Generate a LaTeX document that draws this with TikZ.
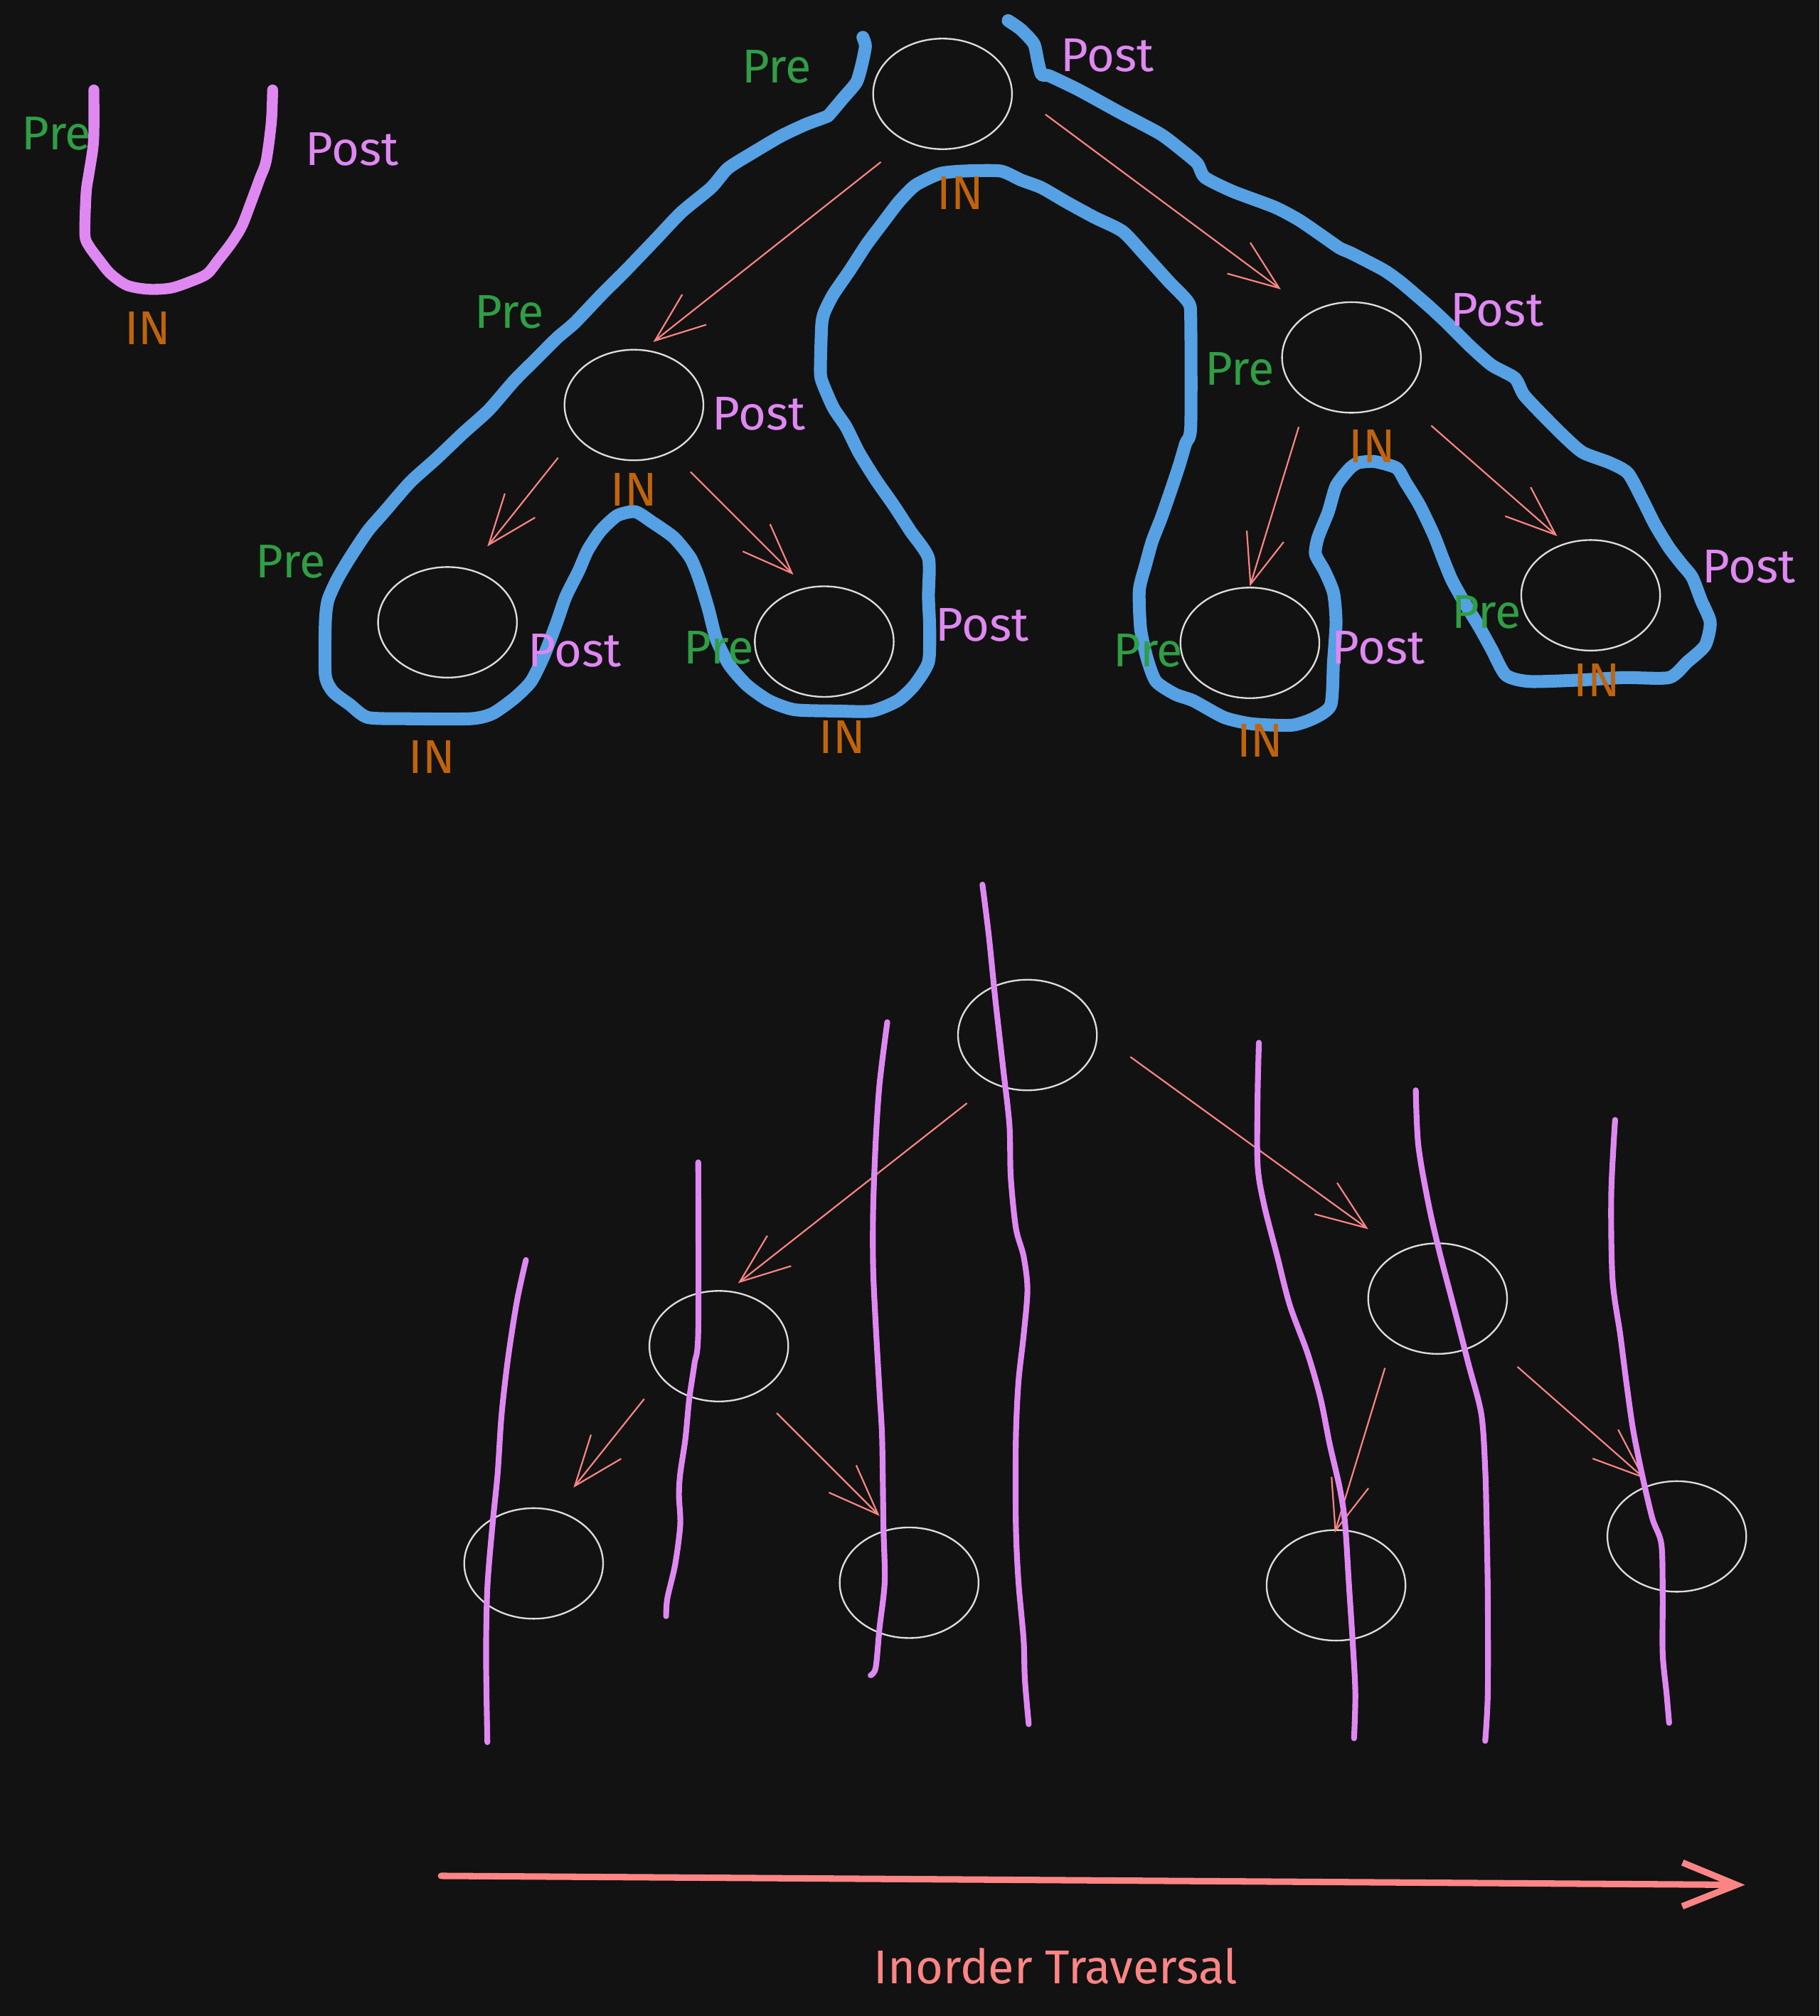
\documentclass[tikz,border=0pt]{standalone}
\usepackage{fontspec}
\setmainfont{Fira Sans}
\usepackage{xcolor}
\usepackage{tikz}
\usetikzlibrary{shapes.geometric, arrows.meta, calc}
\definecolor{bgdark}{HTML}{121212}
\definecolor{nodegray}{HTML}{DCDCDC}
\definecolor{edgered}{HTML}{FF8585}
\definecolor{pregreen}{HTML}{2F9E44}
\definecolor{postpurple}{HTML}{DF88F2}
\definecolor{inorange}{HTML}{C0640C}
\definecolor{contourblue}{HTML}{56A0E4}
\tikzset{
  treenode/.style={ellipse, draw=nodegray, line width=0.13mm,
    minimum width=10.8mm, minimum height=8.6mm, inner sep=0pt},
  treeedge/.style={-{Straight Barb[length=3.9mm, width=3mm]}, draw=edgered, line width=0.12mm},
  prelabel/.style={text=pregreen, font=\fontsize{10.5}{12}\selectfont, inner sep=0pt},
  postlabel/.style={text=postpurple, font=\fontsize{10.5}{12}\selectfont, inner sep=0pt},
  inlabel/.style={text=inorange, font=\fontsize{10.5}{12}\selectfont, inner sep=0pt},
  contour/.style={draw=contourblue, line width=1mm, line cap=round, line join=round},
  sweepline/.style={draw=postpurple, line width=0.45mm, line cap=round, line join=round},
  traversalarrow/.style={-{Straight Barb[length=4.2mm, width=3.4mm]}, draw=edgered,
    line width=0.5mm, line cap=round},
}

\begin{document}
\begin{tikzpicture}[x=0.1mm, y=-0.1mm]
  % Background
  \fill[bgdark] (0,0) rectangle (1415,1568);
  \useasboundingbox (0,0) rectangle (1415,1568);

  % Legend U
  \draw[sweepline, line width=0.85mm] plot[smooth, tension=0.5] coordinates {
    (73,70) (73,103) (72,117) (69,136) (67,150) (66,182) (69,191) (77,202) (86,213)
    (99,222) (116,225) (133,224) (148,219) (161,213) (170,202) (180,189) (188,176)
    (195,158) (202,139) (207,125) (211,95) (212,70)};
  \node[prelabel] (upre) at (44,104) {Pre};
  \node[postlabel] (upost) at (274,116) {Post};
  \node[inlabel] (uin) at (115,255) {IN};

  % Top tree
  \node[treenode] (troot) at (733,73) {};
  \node[treenode] (tl) at (493,315) {};
  \node[treenode] (tr) at (1051,278) {};
  \node[treenode] (tll) at (348,484) {};
  \node[treenode] (tlr) at (641,499) {};
  \node[treenode] (trl) at (972,500) {};
  \node[treenode] (trr) at (1237,463) {};

  \draw[treeedge] ($(troot)+(-48,53)$) -- ($(tl)+(15,-49)$);
  \draw[treeedge] ($(troot)+(80,16)$) -- ($(tr)+(-55,-53)$);
  \draw[treeedge] ($(tl)+(-59,41)$) -- ($(tll)+(31,-59)$);
  \draw[treeedge] ($(tl)+(44,52)$) -- ($(tlr)+(-24,-52)$);
  \draw[treeedge] ($(tr)+(-41,54)$) -- ($(trl)+(0,-44)$);
  \draw[treeedge] ($(tr)+(62,53)$) -- ($(trr)+(-26,-46)$);

  % Euler tour contour
  \draw[contour] plot[smooth, tension=0.4] coordinates {
    (671,29) (673,36) (670,51) (666,64) (656,76) (645,89) (642,91) (626,97) (607,106)
    (585,119) (566,131) (553,146) (530,165) (510,186) (487,210) (467,230) (447,251)
    (433,263) (417,279) (400,296) (380,319) (360,337) (339,357) (319,375) (299,398)
    (286,413) (272,434) (262,451) (255,467) (253,484) (253,525) (259,538) (272,548)
    (286,558) (316,559) (366,559) (383,555) (400,543) (413,530) (423,510) (433,484)
    (440,464) (450,444) (457,428) (467,413) (480,401) (494,398) (507,406) (524,418)
    (537,434) (544,451) (551,474) (557,497) (567,517) (581,533) (598,545) (618,552)
    (651,553) (678,553) (698,545) (711,533) (722,515) (723,489) (722,464) (722,434)
    (708,413) (695,393) (681,373) (668,352) (658,332) (648,317) (639,296) (638,286)
    (639,253) (641,243) (648,229) (661,210) (674,190) (686,174) (699,157) (712,144)
    (731,135) (750,133) (778,133) (794,140) (810,146) (829,157) (851,169) (873,180)
    (890,198) (909,219) (924,235) (926,248) (926,332) (922,345) (917,362) (910,383)
    (903,403) (896,421) (891,439) (886,459) (887,489) (892,512) (899,530) (914,540)
    (928,545) (952,558) (974,563) (1005,564) (1023,558) (1035,548) (1037,515)
    (1039,484) (1037,461) (1030,444) (1023,431) (1025,418) (1033,398) (1039,378)
    (1049,365) (1056,360) (1069,359) (1086,364) (1093,375) (1104,393) (1115,416)
    (1122,434) (1129,451) (1139,469) (1150,487) (1160,505) (1171,525) (1189,530)
    (1227,529) (1263,527) (1298,527) (1312,515) (1326,502) (1330,484) (1323,467)
    (1316,449) (1308,439) (1298,426) (1287,408) (1277,388) (1266,368) (1252,360)
    (1231,352) (1217,340) (1199,322) (1185,307) (1178,294) (1160,284) (1143,269)
    (1125,251) (1111,238) (1090,220) (1076,210) (1051,197) (1042,193) (1029,184)
    (1010,171) (991,161) (959,149) (937,138) (931,127) (918,116) (902,104) (870,87)
    (839,70) (816,59) (810,58) (807,47) (804,34) (794,23) (784,16)};

  % Top labels
  \node[prelabel] (trootpre) at (604,52) {Pre};
  \node[postlabel] (trootpost) at (861,43) {Post};
  \node[inlabel] (trootin) at (747,150) {IN};
  \node[prelabel] (tlpre) at (396,243) {Pre};
  \node[postlabel] (tlpost) at (590,322) {Post};
  \node[inlabel] (tlin) at (493,381) {IN};
  \node[prelabel] (trpre) at (964,287) {Pre};
  \node[postlabel] (trpost) at (1164,241) {Post};
  \node[inlabel] (trin) at (1067,347) {IN};
  \node[prelabel] (tllpre) at (226,437) {Pre};
  \node[postlabel] (tllpost) at (447,506) {Post};
  \node[inlabel] (tllin) at (336,589) {IN};
  \node[prelabel] (tlrpre) at (559,504) {Pre};
  \node[postlabel] (tlrpost) at (764,486) {Post};
  \node[inlabel] (tlrin) at (655,573) {IN};
  \node[prelabel] (trlpre) at (893,506) {Pre};
  \node[postlabel] (trlpost) at (1072,504) {Post};
  \node[inlabel] (trlin) at (980,576) {IN};
  \node[prelabel] (trrpre) at (1156,476) {Pre};
  \node[postlabel] (trrpost) at (1360,441) {Post};
  \node[inlabel] (trrin) at (1242,529) {IN};

  % Bottom tree
  \node[treenode] (broot) at (799,805) {};
  \node[treenode] (bl) at (559,1047) {};
  \node[treenode] (br) at (1118,1010) {};
  \node[treenode] (bll) at (415,1216) {};
  \node[treenode] (blr) at (707,1231) {};
  \node[treenode] (brl) at (1039,1233) {};
  \node[treenode] (brr) at (1304,1195) {};

  \draw[treeedge] ($(broot)+(-47,53)$) -- ($(bl)+(15,-49)$);
  \draw[treeedge] ($(broot)+(80,17)$) -- ($(br)+(-54,-54)$);
  \draw[treeedge] ($(bl)+(-58,41)$) -- ($(bll)+(31,-59)$);
  \draw[treeedge] ($(bl)+(45,52)$) -- ($(blr)+(-23,-52)$);
  \draw[treeedge] ($(br)+(-41,54)$) -- ($(brl)+(-1,-41)$);
  \draw[treeedge] ($(br)+(62,53)$) -- ($(brr)+(-25,-45)$);

  % Sweep lines
  \draw[sweepline] plot[smooth, tension=0.5] coordinates {
    (409,980) (402,1012) (395,1057) (390,1101) (387,1146) (383,1186) (379,1235)
    (378,1288) (379,1355)};
  \draw[sweepline] plot[smooth, tension=0.5] coordinates {
    (543,904) (543,1035) (540,1061) (536,1088) (533,1119) (529,1146) (528,1163)
    (529,1186) (525,1217) (519,1243) (518,1257)};
  \draw[sweepline] plot[smooth, tension=0.5] coordinates {
    (690,795) (684,843) (681,888) (679,941) (679,986) (681,1030) (684,1083)
    (686,1119) (687,1186) (688,1230) (684,1266) (681,1297) (677,1303)};
  \draw[sweepline] plot[smooth, tension=0.5] coordinates {
    (764,688) (769,728) (774,777) (780,830) (785,875) (786,915) (790,955) (796,977)
    (799,1003) (796,1039) (792,1075) (790,1119) (790,1186) (792,1230) (796,1275)
    (797,1306) (800,1341)};
  \draw[sweepline] plot[smooth, tension=0.5] coordinates {
    (979,811) (978,852) (978,906) (983,937) (993,976) (1003,1015) (1017,1053)
    (1027,1088) (1034,1123) (1042,1158) (1046,1185) (1049,1232) (1052,1278)
    (1054,1317) (1053,1352)};
  \draw[sweepline] plot[smooth, tension=0.5] coordinates {
    (1101,848) (1103,891) (1111,937) (1120,976) (1132,1022) (1142,1061) (1152,1100)
    (1155,1143) (1156,1181) (1157,1240) (1157,1317) (1155,1354)};
  \draw[sweepline] plot[smooth, tension=0.5] coordinates {
    (1256,871) (1253,929) (1254,995) (1260,1038) (1265,1077) (1270,1112) (1277,1147)
    (1285,1181) (1292,1201) (1293,1240) (1293,1286) (1296,1317) (1298,1340)};

  % Traversal direction
  \coordinate (tstart) at (343,1459);
  \coordinate (tend) at (1357,1466);
  \draw[traversalarrow] (tstart) -- (tend);
  \node[text=edgered, font=\fontsize{10.5}{12}\selectfont, inner sep=0pt] (tlabel) at (821,1529) {Inorder Traversal};
\end{tikzpicture}
\end{document}
